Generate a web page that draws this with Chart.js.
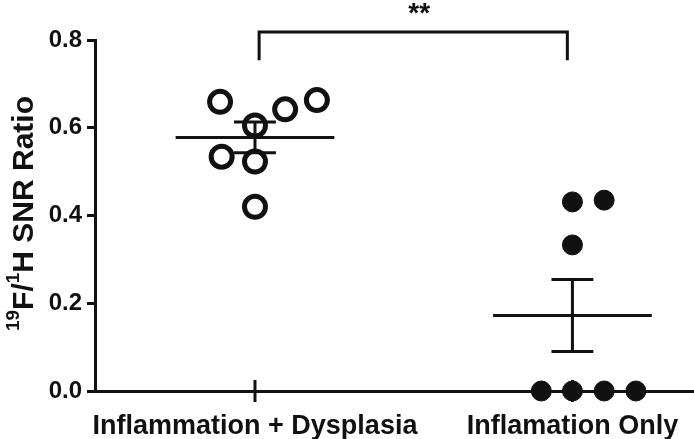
<!DOCTYPE html>
<html>
<head>
<meta charset="utf-8">
<script src="https://cdn.jsdelivr.net/npm/chart.js@4"></script>
<style>
  html, body { margin: 0; padding: 0; background: #fff; overflow: hidden; }
  #wrap { width: 694px; height: 439px; position: relative; overflow: hidden; }
  canvas { display: block; }
</style>
</head>
<body>
<div id="wrap"><canvas id="c"></canvas></div>
<script>
// ---- data ----
const categories = ['Inflammation + Dysplasia', 'Inflamation Only'];
const categoryX = [1, 2];
const dysplasiaValues = [0.659, 0.663, 0.642, 0.605, 0.534, 0.523, 0.42];
const dysplasiaJitter = [-0.11, 0.195, 0.095, 0, -0.105, 0, 0];
const inflammationValues = [0.431, 0.435, 0.333, 0, 0, 0, 0];
const inflammationJitter = [0, 0.1, 0, -0.098, 0, 0.1, 0.2];
const groupMeans = [0.578, 0.172];
const groupSEM = [0.035, 0.082];
const yTicks = [0, 0.2, 0.4, 0.6, 0.8];
const significanceLabel = '**';
const bracketX = [1.013, 1.984];
const bracketY = [0.818, 0.754];

const INK = '#111';
const FONT = "'Liberation Sans', Arial, Helvetica, sans-serif";

function pts(values, jitter, cx) {
  return values.map((v, i) => ({ x: cx + jitter[i], y: v }));
}

const datasets = [
  {
    label: categories[0],
    data: pts(dysplasiaValues, dysplasiaJitter, categoryX[0]),
    pointRadius: 10.5,
    pointBorderWidth: 5,
    pointBorderColor: INK,
    pointBackgroundColor: 'rgba(0,0,0,0)',
    showLine: false,
    clip: false,
    order: 2
  },
  {
    label: categories[1],
    data: pts(inflammationValues, inflammationJitter, categoryX[1]),
    pointRadius: 10,
    pointBorderWidth: 1,
    pointBorderColor: INK,
    pointBackgroundColor: INK,
    showLine: false,
    clip: false,
    order: 2
  }
];

const meanHalf = 0.25, capHalf = 0.066;
groupMeans.forEach((m, i) => {
  const cx = categoryX[i], s = groupSEM[i];
  const segs = [
    [{ x: cx - meanHalf, y: m }, { x: cx + meanHalf, y: m }],
    [{ x: cx, y: m - s }, { x: cx, y: m + s }],
    [{ x: cx - capHalf, y: m + s }, { x: cx + capHalf, y: m + s }],
    [{ x: cx - capHalf, y: m - s }, { x: cx + capHalf, y: m - s }]
  ];
  segs.forEach(seg => datasets.push({
    data: seg,
    showLine: true,
    borderColor: INK,
    borderWidth: 3,
    pointRadius: 0,
    borderCapStyle: 'butt',
    clip: false,
    order: 1
  }));
});

const decorPlugin = {
  id: 'decor',
  afterDraw(chart) {
    const ctx = chart.ctx, xs = chart.scales.x, ys = chart.scales.y, area = chart.chartArea;
    ctx.save();
    ctx.strokeStyle = INK;
    ctx.fillStyle = INK;
    ctx.lineWidth = 3;
    // x tick marks crossing the axis
    categoryX.forEach(v => {
      const px = xs.getPixelForValue(v);
      ctx.beginPath();
      ctx.moveTo(px, area.bottom - 11);
      ctx.lineTo(px, area.bottom + 11);
      ctx.stroke();
    });
    // significance bracket
    const bx0 = xs.getPixelForValue(bracketX[0]), bx1 = xs.getPixelForValue(bracketX[1]);
    const by0 = ys.getPixelForValue(bracketY[0]), by1 = ys.getPixelForValue(bracketY[1]);
    ctx.beginPath();
    ctx.moveTo(bx0, by1);
    ctx.lineTo(bx0, by0);
    ctx.lineTo(bx1, by0);
    ctx.lineTo(bx1, by1);
    ctx.stroke();
    ctx.font = 'bold 28px ' + FONT;
    ctx.textAlign = 'center';
    ctx.textBaseline = 'alphabetic';
    ctx.fillText(significanceLabel, (bx0 + bx1) / 2 + 6, by0 - 10);
    // y-axis title with superscripts
    const parts = [
      { t: '19', sup: true }, { t: 'F/', sup: false },
      { t: '1', sup: true }, { t: 'H SNR Ratio', sup: false }
    ];
    const mainFont = 'bold 30px ' + FONT, supFont = 'bold 19px ' + FONT;
    let total = 0;
    parts.forEach(p => { ctx.font = p.sup ? supFont : mainFont; p.w = ctx.measureText(p.t).width; total += p.w; });
    ctx.translate(33, (area.top + area.bottom) / 2 - 2);
    ctx.rotate(-Math.PI / 2);
    ctx.textAlign = 'left';
    let x = -total / 2;
    parts.forEach(p => {
      ctx.font = p.sup ? supFont : mainFont;
      ctx.fillText(p.t, x, p.sup ? -14 : 0);
      x += p.w;
    });
    ctx.restore();
  }
};

new Chart(document.getElementById('c'), {
  type: 'scatter',
  data: { datasets },
  options: {
    responsive: true,
    maintainAspectRatio: false,
    animation: false,
    events: [],
    layout: { autoPadding: false, padding: { top: 40, right: 0, left: 0, bottom: 0 } },
    plugins: { legend: { display: false }, tooltip: { enabled: false } },
    scales: {
      x: {
        type: 'linear',
        min: 0.496,
        max: 2.383,
        afterBuildTicks: s => { s.ticks = categoryX.map(v => ({ value: v })); },
        afterFit: s => { s.height = 48; s.paddingLeft = 0; s.paddingRight = 0; },
        grid: { display: false },
        border: { display: true, color: INK, width: 3 },
        ticks: {
          padding: 11,
          color: INK,
          font: { family: FONT, size: 27, weight: 'bold' },
          maxRotation: 0,
          autoSkip: false,
          callback: v => categories[categoryX.indexOf(v)] || ''
        }
      },
      y: {
        type: 'linear',
        min: yTicks[0],
        max: yTicks[yTicks.length - 1],
        afterBuildTicks: s => { s.ticks = yTicks.map(v => ({ value: v })); },
        afterFit: s => { s.width = 95; s.paddingTop = 0; s.paddingBottom = 0; },
        grid: { drawOnChartArea: false, drawTicks: true, tickLength: 8, color: INK, lineWidth: 3 },
        border: { display: true, color: INK, width: 3 },
        ticks: {
          padding: 5,
          color: INK,
          font: { family: FONT, size: 24, weight: 'bold' },
          callback: v => v.toFixed(1)
        }
      }
    }
  },
  plugins: [decorPlugin]
});
</script>
</body>
</html>
